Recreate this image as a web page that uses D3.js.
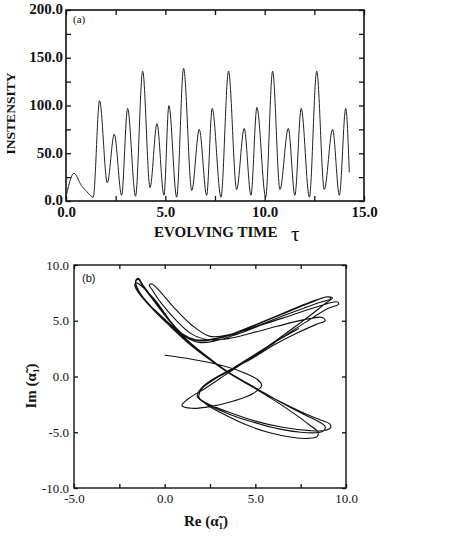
<!DOCTYPE html>
<html><head><meta charset="utf-8">
<script src="https://cdn.jsdelivr.net/npm/d3@7"></script>
<style>
html,body{margin:0;padding:0;background:#fff;}
svg{display:block;}
</style></head>
<body>
<svg id="chart" width="455" height="545"></svg>
<script>
// ---------- Panel (a): intensity vs evolving time ----------
const timeA = [0.0, 0.12, 0.40, 0.78, 1.04, 1.37, 1.69, 2.08, 2.43, 2.80, 3.10, 3.50, 3.86, 4.23, 4.58, 4.93, 5.18, 5.57, 5.92, 6.33, 6.71, 7.08, 7.36, 7.80, 8.18, 8.59, 8.97, 9.31, 9.61, 10.05, 10.40, 10.77, 11.19, 11.52, 11.84, 12.25, 12.62, 13.00, 13.42, 13.76, 14.08, 14.26];
const intensityA = [4, 15, 29, 16, 10, 4, 105, 19, 70, 6, 97, 5, 136, 14, 81, 6, 100, 4, 139, 11, 75, 6, 97, 4, 136, 12, 76, 6, 98, 4, 136, 12, 76, 6, 97, 4, 136, 12, 75, 6, 97, 30];
const xTicksA = [0, 2.5, 5, 7.5, 10, 12.5, 15];
const xLabelsA = [0, 5, 10, 15];
const yTicksA = [0, 25, 50, 75, 100, 125, 150, 175, 200];
const yLabelsA = [0, 50, 100, 150, 200];

// ---------- Panel (b): phase portrait Re vs Im ----------
const trajectoryB = [
 [0.0,1.9],[1.5,1.55],[3.0,1.05],[4.2,0.45],[5.1,-0.25],[5.35,-0.8],[4.9,-1.5],[3.8,-2.2],[2.5,-2.7],[1.5,-2.85],[0.95,-2.6],[1.3,-2.0],[2.2,-1.1],[3.3,0.1],
 [4.6,1.5],[6.2,3.3],[7.8,5.2],[8.9,6.6],[9.25,7.05],[9.0,7.15],[8.0,6.6],[6.5,5.6],[5.0,4.6],[3.7,3.75],[2.6,3.3],[1.8,3.2],[1.0,3.8],[0.2,5.2],[-0.6,6.9],[-1.2,8.2],[-1.45,8.8],[-1.6,8.6],[-1.4,7.6],[-0.7,6.2],[0.3,4.6],[1.3,3.1],[2.4,1.7],[3.4,0.5],[4.8,-0.9],[6.3,-2.2],[7.7,-3.3],[8.6,-3.9],[9.1,-4.25],[9.15,-4.6],[8.8,-4.85],[8.0,-4.85],[6.5,-4.55],[5.0,-4.0],[3.7,-3.3],[2.6,-2.6],[1.9,-1.9],[2.0,-1.2],[2.6,-0.4],[3.4,0.35],
 [4.8,1.7],[6.3,3.3],[7.8,4.9],[9.0,6.1],[9.6,6.5],[9.5,6.7],[8.5,6.3],[7.0,5.5],[5.5,4.7],[4.0,3.8],[2.8,3.2],[1.9,3.05],[1.1,3.6],[0.3,5.0],[-0.5,6.8],[-1.2,8.0],[-1.55,8.4],[-1.65,8.2],[-1.3,7.2],[-0.5,5.9],[0.5,4.4],[1.5,2.9],[2.5,1.6],[3.5,0.4],[5.0,-1.0],[6.5,-2.4],[7.8,-3.5],[8.55,-4.1],[8.85,-4.5],[8.75,-4.9],[8.3,-5.05],[7.5,-5.0],[6.3,-4.7],[4.9,-4.1],[3.6,-3.4],[2.5,-2.6],[1.8,-1.8],[2.0,-1.1],[2.7,-0.3],[3.4,0.4],
 [4.7,1.5],[6.0,2.8],[7.3,3.9],[8.4,4.7],[8.85,5.0],[8.7,5.3],[7.7,5.1],[6.2,4.5],[4.8,3.9],[3.5,3.4],[2.4,3.3],[1.5,3.8],[0.6,5.1],[-0.2,6.6],[-0.7,7.8],[-0.85,8.2],[-0.7,8.3],[-0.3,7.7],[0.5,6.2],[1.5,4.6],[2.5,3.6],[3.7,3.8],[5.2,4.6],[6.8,5.6],[8.3,6.5],[9.15,7.0],[9.0,7.15],[8.0,6.65],[6.5,5.65],[5.0,4.65],[3.7,3.8],[2.6,3.35],[1.7,3.3],[0.9,3.9],[0.1,5.3],[-0.7,7.0],[-1.25,8.2],[-1.45,8.7],[-1.6,8.5],[-1.4,7.5],[-0.7,6.1],[0.3,4.5],[1.3,3.0],[2.4,1.6],[3.4,0.45],[4.9,-1.0],[6.2,-2.3],[7.2,-3.4],[7.95,-4.3],[8.45,-5.0],[8.4,-5.4],[7.9,-5.55],[7.0,-5.45],[5.8,-5.05],[4.6,-4.4],[3.4,-3.5],[2.4,-2.6],[1.8,-1.7],[2.1,-0.9],[2.8,-0.1],[3.6,0.6],[4.8,1.8],[6.2,3.2],[7.4,4.3]
];
const xTicksB = [-5, -2.5, 0, 2.5, 5, 7.5, 10];
const xLabelsB = [-5, 0, 5, 10];
const yTicksB = [-10, -5, 0, 5, 10];

const svg = d3.select("#chart");
const fmt = d3.formatLocale({decimal: ".", thousands: ",", grouping: [3], currency: ["", ""], minus: "-"}).format(".1f");

// ===== Panel (a) =====
const A = {l: 66, r: 364, t: 10, b: 201};
const xA = d3.scaleLinear().domain([0, 15]).range([A.l, A.r]);
const yA = d3.scaleLinear().domain([0, 200]).range([A.b, A.t]);
const gA = svg.append("g");

function styleAxis(g, font, size, weight){
  g.select(".domain").remove();
  g.selectAll(".tick line").attr("stroke", "#111").attr("stroke-width", 1.3);
  g.selectAll("text").attr("font-family", font).attr("font-size", size).attr("font-weight", weight).attr("fill", "#111");
}
const serif = "'Liberation Serif','Times New Roman',serif";

gA.append("g").attr("transform", `translate(0,${A.b})`)
  .call(d3.axisBottom(xA).tickValues(xTicksA).tickSize(-5).tickPadding(5)
    .tickFormat(d => xLabelsA.includes(d) ? fmt(d) : ""))
  .call(g => styleAxis(g, serif, 15, "bold"));
gA.append("g").attr("transform", `translate(0,${A.t})`)
  .call(d3.axisTop(xA).tickValues(xTicksA).tickSize(-5).tickFormat(""))
  .call(g => styleAxis(g, serif, 15, "bold"));
gA.append("g").attr("transform", `translate(${A.l},0)`)
  .call(d3.axisLeft(yA).tickValues(yTicksA).tickSize(-5).tickPadding(3)
    .tickFormat(d => yLabelsA.includes(d) ? fmt(d) : ""))
  .call(g => styleAxis(g, serif, 15, "bold"))
  .call(g => g.selectAll("text").attr("dy", "0.25em"));
gA.append("g").attr("transform", `translate(${A.r},0)`)
  .call(d3.axisRight(yA).tickValues(yTicksA).tickSize(-5).tickFormat(""))
  .call(g => styleAxis(g, serif, 15, "bold"));
gA.append("rect").attr("x", A.l).attr("y", A.t).attr("width", A.r - A.l).attr("height", A.b - A.t)
  .attr("fill", "none").attr("stroke", "#111").attr("stroke-width", 1.6);

const lineA = d3.line().x((d, i) => xA(timeA[i])).y(d => yA(d)).curve(d3.curveMonotoneX);
gA.append("path").datum(intensityA).attr("d", lineA)
  .attr("fill", "none").attr("stroke", "#222").attr("stroke-width", 1);

gA.append("text").attr("x", 73).attr("y", 23).text("(a)")
  .attr("font-family", serif).attr("font-size", 11).attr("fill", "#111");
gA.append("text").attr("transform", `translate(15,${(A.t + A.b) / 2 + 8}) rotate(-90)`)
  .attr("text-anchor", "middle").text("INSTENSITY")
  .attr("font-family", serif).attr("font-size", 13.5).attr("font-weight", "bold").attr("fill", "#111");
gA.append("text").attr("x", 154).attr("y", 237).text("EVOLVING TIME")
  .attr("font-family", serif).attr("font-size", 15).attr("font-weight", "bold").attr("fill", "#111");
gA.append("text").attr("x", 291).attr("y", 241).text("τ")
  .attr("font-family", serif).attr("font-size", 21).attr("fill", "#111");

// ===== Panel (b) =====
const B = {l: 74, r: 346, t: 265, b: 488};
const xB = d3.scaleLinear().domain([-5, 10]).range([B.l, B.r]);
const yB = d3.scaleLinear().domain([-10, 10]).range([B.b, B.t]);
const gB = svg.append("g");

gB.append("g").attr("transform", `translate(0,${B.b})`)
  .call(d3.axisBottom(xB).tickValues(xTicksB).tickSize(-4).tickPadding(6)
    .tickFormat(d => xLabelsB.includes(d) ? fmt(d) : ""))
  .call(g => styleAxis(g, serif, 13, "normal"));
gB.append("g").attr("transform", `translate(0,${B.t})`)
  .call(d3.axisTop(xB).tickValues(xTicksB).tickSize(-4).tickFormat(""))
  .call(g => styleAxis(g, serif, 13, "normal"));
gB.append("g").attr("transform", `translate(${B.l},0)`)
  .call(d3.axisLeft(yB).tickValues(yTicksB).tickSize(-4).tickPadding(5).tickFormat(fmt))
  .call(g => styleAxis(g, serif, 13, "normal"));
gB.append("g").attr("transform", `translate(${B.r},0)`)
  .call(d3.axisRight(yB).tickValues(yTicksB).tickSize(-4).tickFormat(""))
  .call(g => styleAxis(g, serif, 13, "normal"));
gB.append("rect").attr("x", B.l).attr("y", B.t).attr("width", B.r - B.l).attr("height", B.b - B.t)
  .attr("fill", "none").attr("stroke", "#111").attr("stroke-width", 1.4);

const lineB = d3.line().x(d => xB(d[0])).y(d => yB(d[1])).curve(d3.curveCatmullRom.alpha(0.5));
gB.append("path").datum(trajectoryB).attr("d", lineB)
  .attr("fill", "none").attr("stroke", "#111").attr("stroke-width", 1.1);

gB.append("text").attr("x", 82).attr("y", 282).text("(b)")
  .attr("font-family", "'Liberation Sans',Arial,sans-serif").attr("font-size", 11).attr("fill", "#111");

const imLbl = gB.append("text").attr("transform", `translate(36,386) rotate(-90)`)
  .attr("text-anchor", "middle")
  .attr("font-family", serif).attr("font-size", 15).attr("font-weight", "bold").attr("fill", "#111");
imLbl.append("tspan").text("Im (α\u0303");
imLbl.append("tspan").attr("font-size", 9).attr("dy", 3).text("1");
imLbl.append("tspan").attr("dy", -3).text(")");

const reLbl = gB.append("text").attr("x", 206).attr("y", 526)
  .attr("text-anchor", "middle")
  .attr("font-family", serif).attr("font-size", 15).attr("font-weight", "bold").attr("fill", "#111");
reLbl.append("tspan").text("Re (α\u0303");
reLbl.append("tspan").attr("font-size", 9).attr("dy", 3).text("1");
reLbl.append("tspan").attr("dy", -3).text(")");
</script>
</body></html>
